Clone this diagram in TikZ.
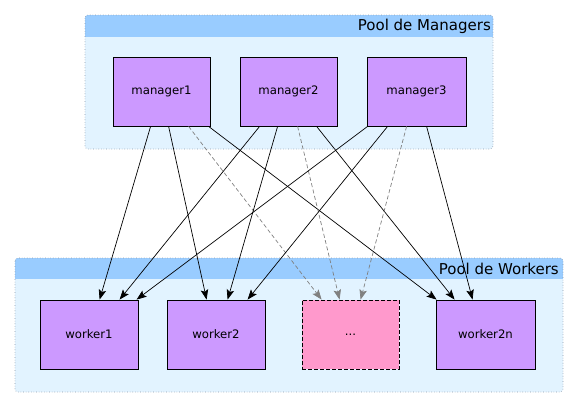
\documentclass[tikz,border=0pt]{standalone}
\usepackage{fontspec}
\setmainfont{DejaVu Sans}
\usetikzlibrary{arrows.meta,calc}
\definecolor{boxfill}{HTML}{CC99FF}
\definecolor{dotsfill}{HTML}{FF99CC}
\definecolor{poolbg}{HTML}{E2F3FF}
\definecolor{poolhead}{HTML}{99CCFF}
\definecolor{poolborder}{HTML}{8C9AAA}
\definecolor{dashgray}{HTML}{808080}
\begin{document}
\begin{tikzpicture}[x=1pt,y=-1pt,
  unit/.style={draw=black, line width=0.8pt, fill=boxfill, rectangle, minimum height=69pt, inner sep=0pt,
    font=\fontsize{11.7}{13}\selectfont},
  pooltitle/.style={anchor=east, inner sep=0pt, font=\fontsize{15}{17}\selectfont},
  link/.style={draw=black, line width=0.7pt, -{Stealth[length=10pt,width=7.5pt,inset=2pt]}},
  dlink/.style={draw=dashgray, line width=0.7pt, dash pattern=on 4pt off 2.5pt, -{Stealth[length=10pt,width=7.5pt,inset=2pt]}}
]
\useasboundingbox (0,0) rectangle (579,408);
% Pool de Managers
\fill[poolbg, rounded corners=3pt] (85,15) rectangle (493,149);
\fill[poolhead, rounded corners=3pt] (85,15) rectangle (493,30);
\fill[poolhead] (85,25) rectangle (493,37);
\draw[poolborder, line width=0.6pt, dotted, rounded corners=3pt] (85,15) rectangle (493,149);
\node[pooltitle] (tm) at (491,26) {Pool de Managers};
% Pool de Workers
\fill[poolbg, rounded corners=3pt] (15,258) rectangle (563,392);
\fill[poolhead, rounded corners=3pt] (15,258) rectangle (563,270);
\fill[poolhead] (15,265) rectangle (563,279);
\draw[poolborder, line width=0.6pt, dotted, rounded corners=3pt] (15,258) rectangle (563,392);
\node[pooltitle] (tw) at (559,269) {Pool de Workers};
% managers
\node[unit, minimum width=97pt] (m1) at (161.5,91.5) {manager1};
\node[unit, minimum width=97pt] (m2) at (288.5,91.5) {manager2};
\node[unit, minimum width=99pt] (m3) at (416.5,91.5) {manager3};
% workers
\node[unit, minimum width=98pt] (w1) at (89,334.5) {worker1};
\node[unit, minimum width=98pt] (w2) at (216,334.5) {worker2};
\node[unit, minimum width=97pt, fill=dotsfill, dashed, dash pattern=on 4pt off 2pt] (wd) at (350.5,334.5) {...};
\node[unit, minimum width=99pt] (wn) at (485.5,334.5) {worker2n};
% connectors from manager1
\draw[link] ($(m1.south west)+(38,0)$) -- ($(w1.north west)+(60,0)$);
\draw[link] ($(m1.south west)+(56,0)$) -- ($(w2.north west)+(40,0)$);
\draw[dlink] ($(m1.south west)+(76,0)$) -- ($(wd.north west)+(20,0)$);
\draw[link] ($(m1.south west)+(96,0)$) -- ($(wn.north west)+(1,0)$);
% from manager2
\draw[link] ($(m2.south west)+(20,0)$) -- ($(w1.north west)+(80,0)$);
\draw[link] ($(m2.south west)+(38,0)$) -- ($(w2.north west)+(61,0)$);
\draw[dlink] ($(m2.south west)+(58,0)$) -- ($(wd.north west)+(38,0)$);
\draw[link] ($(m2.south west)+(77,0)$) -- ($(wn.north west)+(19,0)$);
% from manager3
\draw[link] ($(m3.south west)+(1,0)$) -- ($(w1.north west)+(97,0)$);
\draw[link] ($(m3.south west)+(21,0)$) -- ($(w2.north west)+(81,0)$);
\draw[dlink] ($(m3.south west)+(40,0)$) -- ($(wd.north west)+(59,0)$);
\draw[link] ($(m3.south west)+(60,0)$) -- ($(wn.north west)+(37,0)$);
\end{tikzpicture}
\end{document}
